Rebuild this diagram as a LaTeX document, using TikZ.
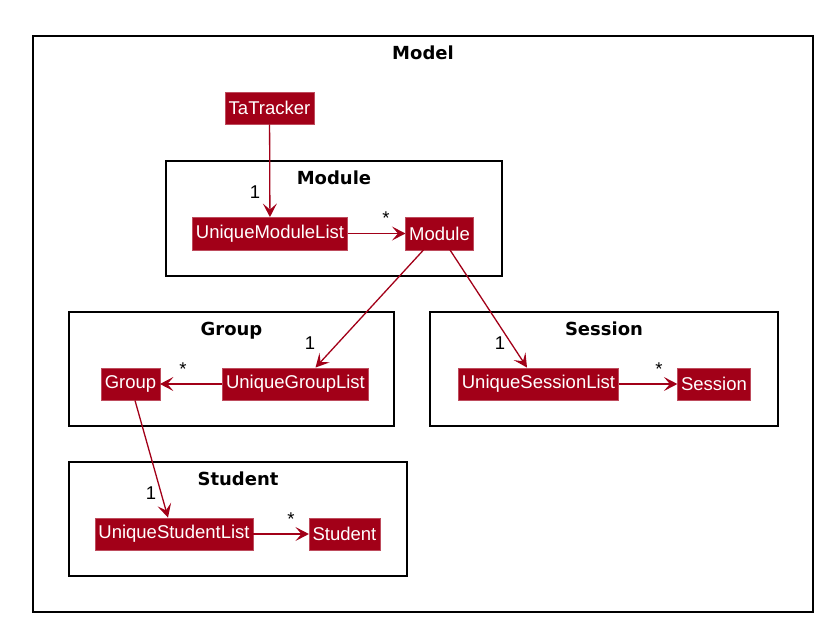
\documentclass[tikz,border=0pt]{standalone}
\usepackage{fontspec}
\setmainfont{Liberation Sans}
\newfontfamily\titlefont{DejaVu Sans}
\usetikzlibrary{arrows.meta}
\definecolor{umlred}{HTML}{A20018}

\begin{document}
\begin{tikzpicture}
  [x=1pt,y=-1pt,
   cls/.style={rectangle,fill=umlred,draw=umlred!70!white,text=white,
     font=\fontsize{18.5}{20}\selectfont,inner xsep=3.5pt,inner ysep=0pt,
     minimum height=32.5pt},
   pkg/.style={rectangle,draw=black,line width=1.5pt,inner sep=0pt},
   pkgtitle/.style={anchor=base,inner sep=0pt,font=\titlefont\bfseries\fontsize{18}{20}\selectfont},
   mult/.style={inner sep=0pt,font=\fontsize{18.5}{20}\selectfont},
   assoc/.style={draw=umlred,line width=1.3pt,-{Stealth[length=13.5pt,width=14pt,inset=6pt]}}]
  \useasboundingbox (0,0) rectangle (828,627);

  % packages
  \node[pkg,minimum width=780pt,minimum height=576pt] (pModel) at (423,324) {};
  \node[pkg,minimum width=336pt,minimum height=115pt] (pModule) at (334,218.5) {};
  \node[pkg,minimum width=325pt,minimum height=114pt] (pGroup) at (231.5,369) {};
  \node[pkg,minimum width=348pt,minimum height=114pt] (pSession) at (604,369) {};
  \node[pkg,minimum width=338pt,minimum height=114pt] (pStudent) at (238,519) {};

  \foreach \p/\t in {pModel/Model,pModule/Module,pGroup/Group,pSession/Session,pStudent/Student}
    \node[pkgtitle] (\p-title) at ([yshift=-24pt]\p.north) {\t};

  % classes
  \node[cls] (tatracker) at (269.5,108) {TaTracker};
  \node[cls] (uml) at (270,233.5) {UniqueModuleList};
  \node[cls] (module) at (439.5,233.5) {Module};
  \node[cls] (group) at (130.5,384) {Group};
  \node[cls] (ugl) at (295.5,384) {UniqueGroupList};
  \node[cls] (usesl) at (538.5,384) {UniqueSessionList};
  \node[cls] (session) at (714,384) {Session};
  \node[cls] (ustl) at (174,534) {UniqueStudentList};
  \node[cls] (student) at (344.5,534) {Student};

  \foreach \from/\to in {tatracker/uml,uml/module,ugl/group,usesl/session,ustl/student}
    \draw[assoc] (\from) -- (\to);

  \draw[assoc] ([xshift=-16pt]module.south) -- ([xshift=20pt]ugl.north);
  \draw[assoc] ([xshift=10.5pt]module.south) -- ([xshift=-11.5pt]usesl.north);
  \draw[assoc] ([xshift=4.5pt]group.south) -- ([xshift=-6pt]ustl.north);

  % multiplicities
  \node[mult] (m1) at (255,192) {1};
  \node[mult] (m2) at (386,218) {*};
  \node[mult] (m3) at (310,343) {1};
  \node[mult] (m4) at (183,369) {*};
  \node[mult] (m5) at (500,343) {1};
  \node[mult] (m6) at (659,369) {*};
  \node[mult] (m7) at (151,493) {1};
  \node[mult] (m8) at (291,519) {*};
\end{tikzpicture}
\end{document}
